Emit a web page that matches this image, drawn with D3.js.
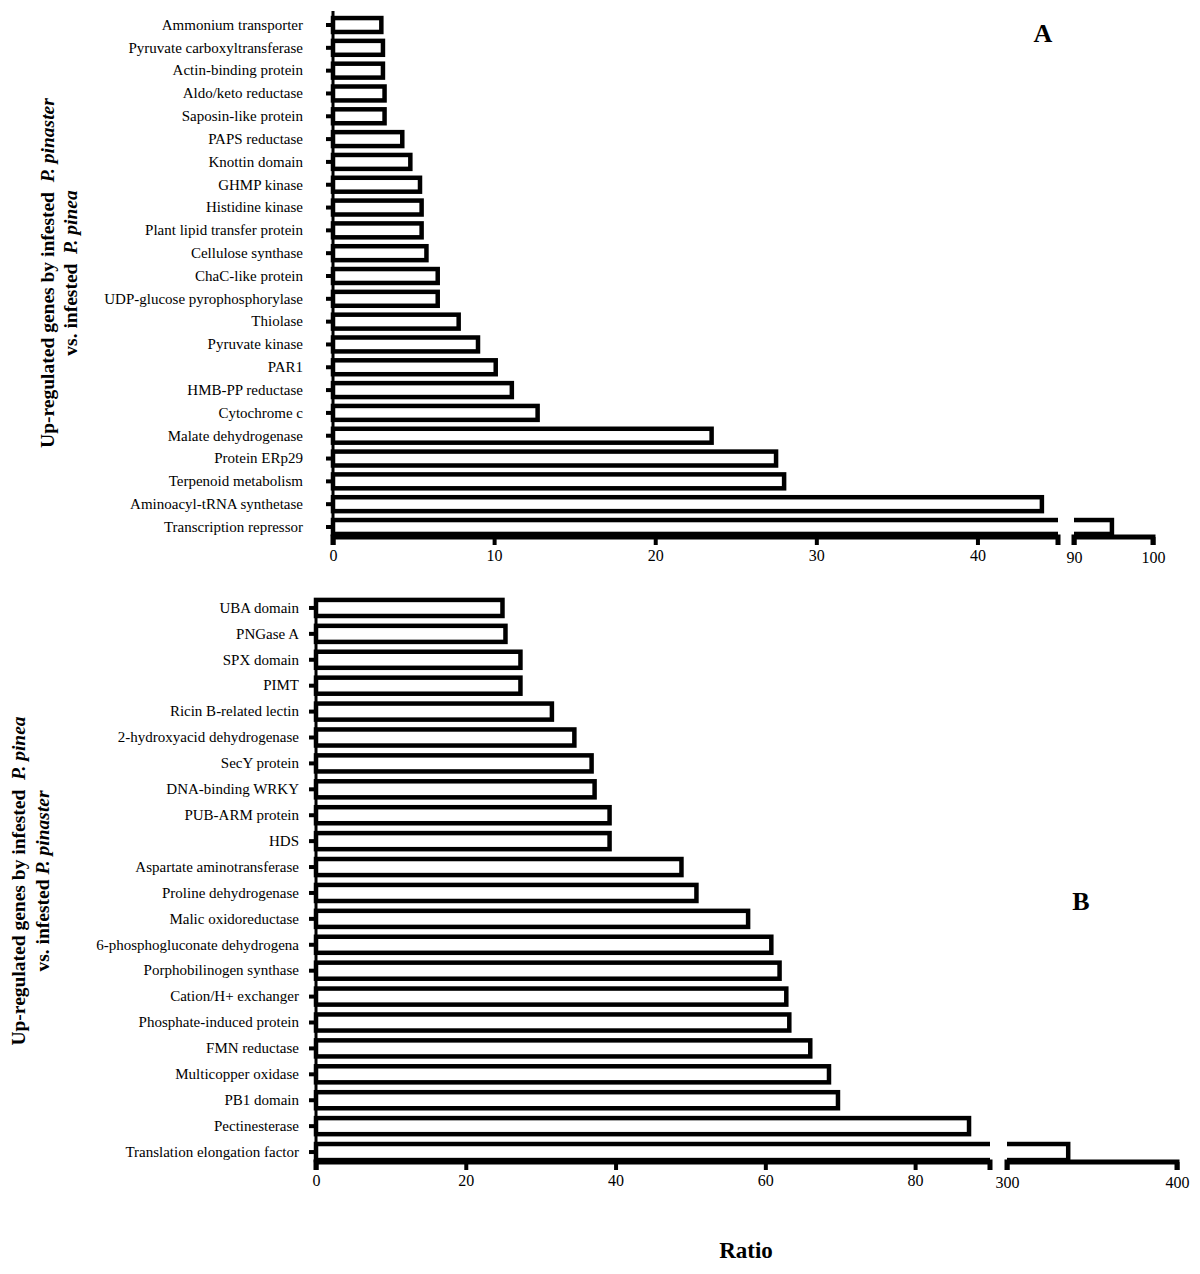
<!DOCTYPE html>
<html><head><meta charset="utf-8">
<script src="https://cdn.jsdelivr.net/npm/d3@7/dist/d3.min.js"></script>
<style>
body{margin:0;background:#fff;}
text{font-family:"Liberation Serif","Times New Roman",serif;}
</style></head>
<body>
<svg id="chart" width="1200" height="1274"></svg>
<script>
// ---- Panel A data (top to bottom) ----
const catsA = ["Ammonium transporter","Pyruvate carboxyltransferase","Actin-binding protein","Aldo/keto reductase","Saposin-like protein","PAPS reductase","Knottin domain","GHMP kinase","Histidine kinase","Plant lipid transfer protein","Cellulose synthase","ChaC-like protein","UDP-glucose pyrophosphorylase","Thiolase","Pyruvate kinase","PAR1","HMB-PP reductase","Cytochrome c","Malate dehydrogenase","Protein ERp29","Terpenoid metabolism","Aminoacyl-tRNA synthetase","Transcription repressor"];
const valsA = [3.0,3.1,3.1,3.2,3.2,4.3,4.8,5.4,5.5,5.5,5.8,6.5,6.5,7.8,9.0,10.1,11.1,12.7,23.5,27.5,28.0,44.0,94.8];
const ticksA1 = [0,10,20,30,40];
const ticksA2 = [90,100];
const domA1 = [0,45], domA2 = [90,100];

// ---- Panel B data (top to bottom) ----
const catsB = ["UBA domain","PNGase A","SPX domain","PIMT","Ricin B-related lectin","2-hydroxyacid dehydrogenase","SecY protein","DNA-binding WRKY","PUB-ARM protein","HDS","Aspartate aminotransferase","Proline dehydrogenase","Malic oxidoreductase","6-phosphogluconate dehydrogena","Porphobilinogen synthase","Cation/H+ exchanger","Phosphate-induced protein","FMN reductase","Multicopper oxidase","PB1 domain","Pectinesterase","Translation elongation factor"];
const valsB = [24.9,25.3,27.3,27.3,31.5,34.5,36.8,37.2,39.2,39.2,48.8,50.8,57.7,60.8,61.9,62.8,63.2,66.0,68.5,69.7,87.2,336];
const ticksB1 = [0,20,40,60,80];
const ticksB2 = [300,400];
const domB1 = [0,90], domB2 = [300,400];

const svg = d3.select("#chart");
const SW = 4.5;

function panel(cfg){
  const g = svg.append("g");
  const x1 = d3.scaleLinear().domain(cfg.dom1).range([cfg.x0, cfg.xBreak1]);
  const x2 = d3.scaleLinear().domain(cfg.dom2).range([cfg.xBreak2, cfg.xEnd]);
  const y = d3.scaleBand().domain(cfg.cats).range([cfg.yTop, cfg.yBot]).paddingInner(cfg.pad).paddingOuter(cfg.pad/2);
  const id = cfg.id;
  const defs = svg.append("defs");
  defs.append("clipPath").attr("id", id+"c1").append("rect")
    .attr("x", cfg.x0-10).attr("y", 0).attr("width", cfg.xBreak1-cfg.x0+10).attr("height", 1274);
  defs.append("clipPath").attr("id", id+"c2").append("rect")
    .attr("x", cfg.xBreak2).attr("y", 0).attr("width", cfg.xEnd-cfg.xBreak2+20).attr("height", 1274);

  const data = cfg.cats.map((c,i)=>({c, v: cfg.vals[i]}));
  g.append("g").attr("clip-path", `url(#${id}c1)`).selectAll("rect").data(data).join("rect")
    .attr("x", x1(0))
    .attr("y", d=>y(d.c))
    .attr("width", d=> d.v <= cfg.dom1[1] ? x1(d.v)-x1(0) : x1(cfg.dom1[1])-x1(0)+20)
    .attr("height", y.bandwidth())
    .attr("fill","#fff").attr("stroke","#000").attr("stroke-width",SW);
  g.append("g").attr("clip-path", `url(#${id}c2)`).selectAll("rect").data(data.filter(d=>d.v>=cfg.dom2[0])).join("rect")
    .attr("x", x2(cfg.dom2[0])-20)
    .attr("y", d=>y(d.c))
    .attr("width", d=> x2(d.v)-x2(cfg.dom2[0])+20)
    .attr("height", y.bandwidth())
    .attr("fill","#fff").attr("stroke","#000").attr("stroke-width",SW);

  const ay = g.append("g").attr("transform",`translate(${cfg.x0},0)`)
    .call(d3.axisLeft(y).tickSize(7).tickSizeOuter(0).tickPadding(cfg.tickPad));
  ay.select(".domain").attr("stroke-width",3).attr("d",`M0,${cfg.axTop}V${cfg.axisY}`);
  ay.selectAll(".tick line").attr("stroke-width",4);
  ay.selectAll(".tick text").attr("font-size",15).attr("fill","#000").style("font-family","Liberation Serif");

  const ax1 = g.append("g").attr("transform",`translate(0,${cfg.axisY})`)
    .call(d3.axisBottom(x1).tickValues(cfg.t1).tickSize(8).tickSizeOuter(8).tickPadding(5).tickFormat(d3.format("d")));
  ax1.select(".domain").attr("stroke-width",5).attr("d",`M${cfg.x0},8V0H${cfg.xBreak1}V8`);
  const ax2 = g.append("g").attr("transform",`translate(0,${cfg.axisY})`)
    .call(d3.axisBottom(x2).tickValues(cfg.t2).tickSize(8).tickSizeOuter(8).tickPadding(7).tickFormat(d3.format("d")));
  ax2.select(".domain").attr("stroke-width",5).attr("d",`M${cfg.xBreak2},8V0H${cfg.xEnd}V8`);
  [ax1,ax2].forEach(a=>{
    a.selectAll(".tick line").attr("stroke-width",4);
    a.selectAll(".tick text").attr("font-size",16).attr("fill","#000").style("font-family","Liberation Serif");
  });

  g.append("text").attr("x",cfg.letter[0]).attr("y",cfg.letter[1]).attr("text-anchor","middle")
    .attr("font-size",26).attr("font-weight","bold").text(cfg.id);

  cfg.title.forEach((ln,i)=>{
    const t = g.append("text")
      .attr("transform",`translate(${ln.x},${cfg.titleY}) rotate(-90)`)
      .attr("text-anchor","middle").attr("dominant-baseline","central")
      .style("white-space","pre")
      .attr("font-size",19.5).attr("font-weight","bold");
    t.append("tspan").text(ln.a);
    t.append("tspan").attr("font-style","italic").text(ln.b);
  });
}

panel({id:"A", cats:catsA, vals:valsA, dom1:domA1, dom2:domA2, t1:ticksA1, t2:ticksA2,
  x0:333, xBreak1:1058, xBreak2:1074, xEnd:1153, yTop:13.6, yBot:538.4, pad:0.39, axisY:537, axTop:11,
  tickPad:23, letter:[1043,42], titleY:273,
  title:[{x:47,a:"Up-regulated genes by infested  ",b:"P. pinaster"},{x:70,a:"vs. infested  ",b:"P. pinea"}]});

panel({id:"B", cats:catsB, vals:valsB, dom1:domB1, dom2:domB2, t1:ticksB1, t2:ticksB2,
  x0:316, xBreak1:990, xBreak2:1007, xEnd:1177, yTop:595, yBot:1165, pad:0.38, axisY:1162, axTop:601,
  tickPad:10, letter:[1081,910], titleY:881,
  title:[{x:18,a:"Up-regulated genes by infested  ",b:"P. pinea"},{x:42,a:"vs. infested ",b:"P. pinaster"}]});

svg.append("text").attr("x",746).attr("y",1258).attr("text-anchor","middle")
  .attr("font-size",23).attr("font-weight","bold").text("Ratio");
</script>
</body></html>
